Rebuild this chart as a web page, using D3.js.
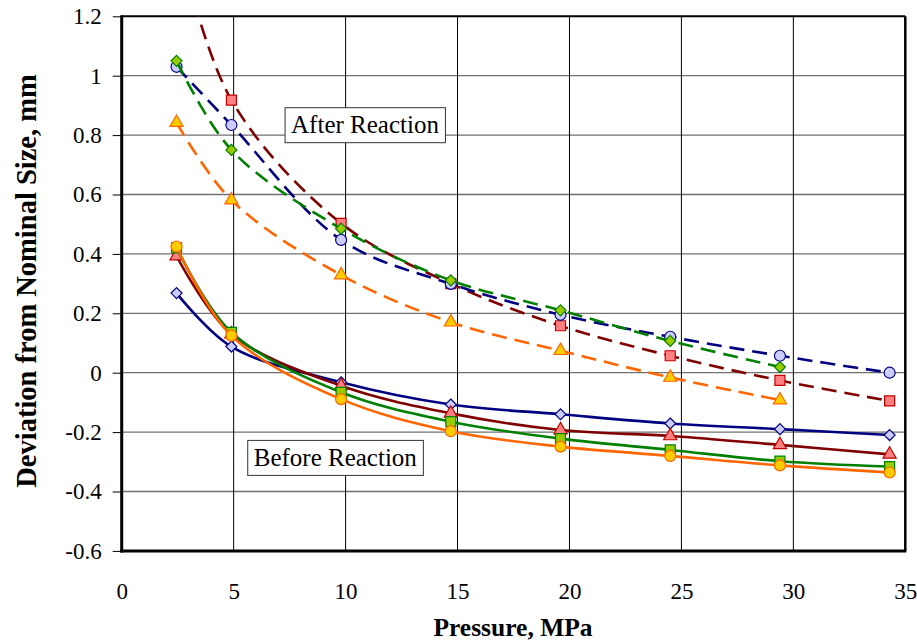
<!DOCTYPE html>
<html>
<head>
<meta charset="utf-8">
<script src="https://cdn.jsdelivr.net/npm/d3@7/dist/d3.min.js"></script>
<style>
  html, body { margin: 0; padding: 0; background: #fff; }
  svg { display: block; }
  text { font-family: "Liberation Serif", "Times New Roman", serif; fill: #000; }
</style>
</head>
<body>
<svg id="chart" width="917" height="644"></svg>
<script>
// Pressure steps (MPa)
const pressure = [2.45, 4.9, 9.8, 14.7, 19.6, 24.5, 29.4, 34.3];

// Before reaction (solid lines)
const beforeNavy   = [0.268, 0.088, -0.032, -0.107, -0.140, -0.171, -0.190, -0.210];
const beforeRed    = [0.393, 0.130, -0.044, -0.137, -0.193, -0.213, -0.243, -0.275];
const beforeGreen  = [0.420, 0.136, -0.066, -0.165, -0.222, -0.260, -0.298, -0.316];
const beforeOrange = [0.425, 0.125, -0.089, -0.197, -0.249, -0.280, -0.312, -0.336];

// After reaction (dashed lines); null = not measured
const afterRed    = [1.47, 0.918, 0.503, 0.300, 0.158, 0.057, -0.026, -0.095];
const afterNavy   = [1.030, 0.834, 0.447, 0.299, 0.195, 0.121, 0.057, 0.000];
const afterGreen  = [1.050, 0.750, 0.485, 0.311, 0.210, 0.107, 0.019, null];
const afterOrange = [0.842, 0.581, 0.329, 0.170, 0.074, -0.016, -0.092, null];

const xTicks = [0, 5, 10, 15, 20, 25, 30, 35];
const yTicks = [-0.6, -0.4, -0.2, 0, 0.2, 0.4, 0.6, 0.8, 1, 1.2];

const series = [
  { values: beforeNavy,   line: "#000080", fill: "#CCCCFF", stroke: "#000080", shape: "diamond",  dashed: false },
  { values: beforeRed,    line: "#800000", fill: "#FF8080", stroke: "#C00000", shape: "triangle", dashed: false },
  { values: beforeGreen,  line: "#008000", fill: "#99CC00", stroke: "#008000", shape: "square",   dashed: false },
  { values: beforeOrange, line: "#FF6600", fill: "#FFCC00", stroke: "#FF6600", shape: "circle",   dashed: false },
  { values: afterRed,     line: "#800000", fill: "#FF8080", stroke: "#C00000", shape: "square",   dashed: true },
  { values: afterNavy,    line: "#000080", fill: "#CCCCFF", stroke: "#000080", shape: "circle",   dashed: true },
  { values: afterGreen,   line: "#008000", fill: "#99CC00", stroke: "#008000", shape: "diamond",  dashed: true },
  { values: afterOrange,  line: "#FF6600", fill: "#FFCC00", stroke: "#FF6600", shape: "triangle", dashed: true }
];

const svg = d3.select("#chart");
const plotL = 121.7, plotR = 905.3, plotT = 16.3, plotB = 550.9;

const x = d3.scaleLinear().domain([0, 35]).range([plotL, plotR]);
const y = d3.scaleLinear().domain([-0.6, 1.2]).range([plotB, plotT]);

svg.append("defs").append("clipPath").attr("id", "plotClip")
  .append("rect").attr("x", plotL).attr("y", plotT)
  .attr("width", plotR - plotL).attr("height", plotB - plotT);

// Gridlines
svg.append("g").selectAll("line").data(yTicks.slice(1, -1)).join("line")
  .attr("x1", plotL).attr("x2", plotR)
  .attr("y1", d => y(d)).attr("y2", d => y(d))
  .attr("stroke", "#707070").attr("stroke-width", 1.3);
svg.append("g").selectAll("line").data(xTicks.slice(1, -1)).join("line")
  .attr("x1", d => x(d)).attr("x2", d => x(d))
  .attr("y1", plotT).attr("y2", plotB)
  .attr("stroke", "#000").attr("stroke-width", 1);

// Y axis (plain hyphen for negatives)
const yAxis = svg.append("g").attr("transform", `translate(${plotL},0)`)
  .call(d3.axisLeft(y).tickValues(yTicks).tickSize(9).tickPadding(11)
    .tickFormat(d => String(+d.toFixed(1))));
yAxis.attr("font-family", null).attr("font-size", null);
yAxis.select(".domain").remove();
yAxis.selectAll("line").attr("stroke", "#000").attr("stroke-width", 1);
yAxis.selectAll("text").style("font-family", "'Liberation Serif', serif").style("font-size", "23px");

// X axis
const xAxis = svg.append("g").attr("transform", `translate(0,${plotB})`)
  .call(d3.axisBottom(x).tickValues(xTicks).tickSize(0).tickPadding(32));
xAxis.attr("font-family", null).attr("font-size", null);
xAxis.select(".domain").remove();
xAxis.selectAll("text").style("font-family", "'Liberation Serif', serif").style("font-size", "23px");

// Plot frame
svg.append("line").attr("x1", plotL).attr("x2", plotR).attr("y1", plotT).attr("y2", plotT)
  .attr("stroke", "#000").attr("stroke-width", 2);
svg.append("line").attr("x1", plotR).attr("x2", plotR).attr("y1", plotT).attr("y2", plotB)
  .attr("stroke", "#000").attr("stroke-width", 2.5);
svg.append("line").attr("x1", plotL).attr("x2", plotL).attr("y1", plotT - 1).attr("y2", plotB + 1.5)
  .attr("stroke", "#000").attr("stroke-width", 3);
svg.append("line").attr("x1", plotL - 1.5).attr("x2", plotR + 1).attr("y1", plotB).attr("y2", plotB)
  .attr("stroke", "#000").attr("stroke-width", 3);

// Series
const plot = svg.append("g").attr("clip-path", "url(#plotClip)");
const lineGen = d3.line()
  .x(d => x(d[0])).y(d => y(d[1]))
  .curve(d3.curveCatmullRom.alpha(0.5));

// Square diamond (equal width and height), as spreadsheet markers draw it
const squareDiamond = {
  draw(ctx, size) {
    const r = Math.sqrt(size / 2);
    ctx.moveTo(0, -r); ctx.lineTo(r, 0); ctx.lineTo(0, r); ctx.lineTo(-r, 0); ctx.closePath();
  }
};

const symbolFor = {
  circle:   d3.symbol().type(d3.symbolCircle).size(95),
  square:   d3.symbol().type(d3.symbolSquare).size(100),
  triangle: d3.symbol().type(d3.symbolTriangle).size(75),
  diamond:  d3.symbol().type(squareDiamond).size(60)
};

series.forEach(s => {
  const pts = pressure.map((p, i) => [p, s.values[i]]).filter(d => d[1] !== null);
  plot.append("path")
    .attr("d", lineGen(pts))
    .attr("fill", "none")
    .attr("stroke", s.line)
    .attr("stroke-width", 2.6)
    .attr("stroke-dasharray", s.dashed ? "15 8" : null);
  plot.append("g").selectAll("path").data(pts).join("path")
    .attr("transform", d => `translate(${x(d[0])},${y(d[1])})`)
    .attr("d", symbolFor[s.shape]())
    .attr("fill", s.fill)
    .attr("stroke", s.stroke)
    .attr("stroke-width", 1.2);
});

// Annotation boxes
function label(cx, baseline, txt) {
  const g = svg.append("g");
  const t = g.append("text").attr("x", cx).attr("y", baseline)
    .attr("text-anchor", "middle").style("font-size", "25px").text(txt);
  const b = t.node().getBBox();
  g.insert("rect", "text")
    .attr("x", b.x - 6).attr("y", baseline - 25.6)
    .attr("width", b.width + 12).attr("height", 35)
    .attr("fill", "#fff").attr("stroke", "#333").attr("stroke-width", 1);
}
label(365, 133.3, "After Reaction");
label(335.3, 466, "Before Reaction");

// Axis titles
svg.append("text").attr("x", 513).attr("y", 636).attr("text-anchor", "middle")
  .style("font-size", "25.5px").style("font-weight", "bold").text("Pressure, MPa");
svg.append("text").attr("transform", "translate(36,281) rotate(-90)").attr("text-anchor", "middle")
  .style("font-size", "28.5px").style("font-weight", "bold").text("Deviation from Nominal Size, mm");
</script>
</body>
</html>
